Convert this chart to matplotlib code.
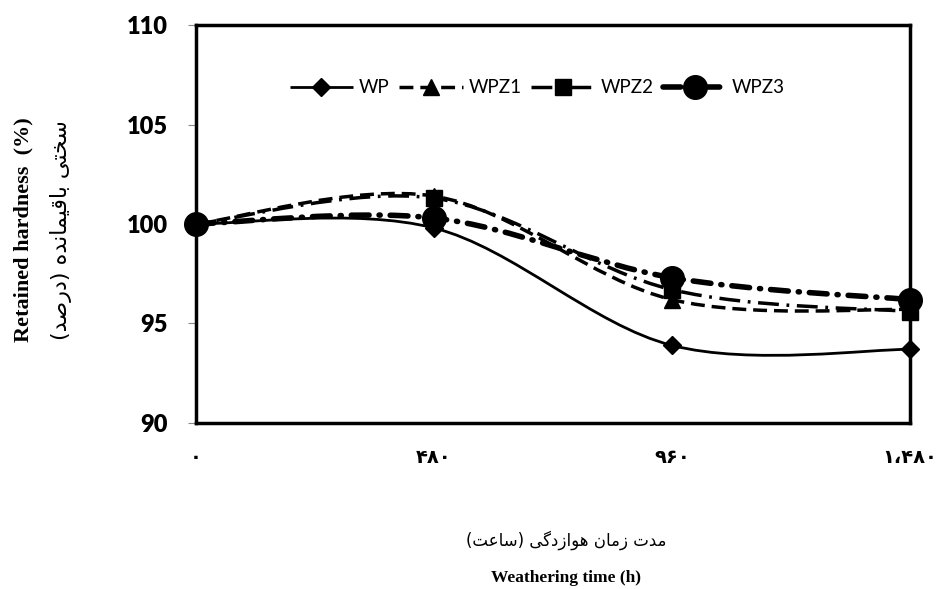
import numpy as np
import matplotlib
matplotlib.use("Agg")
import matplotlib.pyplot as plt
from matplotlib.path import Path
from matplotlib.patches import PathPatch
from matplotlib.lines import Line2D

# weathering time categories (hours) and their persian tick labels
times = [0, 480, 960, 1480]
tick_labels = ["\u06f0", "\u06f4\u06f8\u06f0", "\u06f9\u06f6\u06f0", "\u06f1\u060c\u06f4\u06f8\u06f0"]

# retained hardness (%)
wp = [100.0, 99.8, 93.9, 93.7]
wpz1 = [100.0, 101.4, 96.2, 95.7]
wpz2 = [100.0, 101.3, 96.7, 95.6]
wpz3 = [100.0, 100.3, 97.3, 96.2]

# persian labels, pre-shaped (presentation forms, visual order)
ylabel_fa = ("(\ufeaa\ufebb\ufead\ufea9) "
             "\ufee9\ufeaa\ufee7\ufe8e\ufee4\ufbff\ufed7\ufe8e\ufe91 "
             "\ufbfd\ufe98\ufea8\ufeb3")
xlabel_fa = ("(\ufe96\ufecb\ufe8e\ufeb3) "
             "\ufbfd\ufb94\ufea9\ufeaf\ufe8d\ufeee\ufeeb "
             "\ufee5\ufe8e\ufee3\ufeaf "
             "\ufe95\ufeaa\ufee3")


def smooth_path(xs, ys):
    # excel style smoothed line: catmull-rom turned into cubic bezier
    pts = np.column_stack([xs, ys]).astype(float)
    n = len(pts)
    verts = [pts[0]]
    codes = [Path.MOVETO]
    for i in range(n - 1):
        p0 = pts[max(i - 1, 0)]
        p1 = pts[i]
        p2 = pts[i + 1]
        p3 = pts[min(i + 2, n - 1)]
        verts += [p1 + (p2 - p0) / 6, p2 - (p3 - p1) / 6, p2]
        codes += [Path.CURVE4] * 3
    return Path(verts, codes)


fig = plt.figure(figsize=(9.38, 5.89), dpi=100)
ax = fig.add_axes([196 / 938, 1 - 423 / 589, 714 / 938, 398 / 589])

x = np.arange(len(times))
series = [
    ("WP", wp, "D", 9, (0, ()), 2.0, "butt"),
    ("WPZ1", wpz1, "^", 12, (0, (4, 2)), 2.5, "butt"),
    ("WPZ2", wpz2, "s", 12, (0, (6, 2.2, 0.8, 2.2)), 2.5, "butt"),
    ("WPZ3", wpz3, "o", 17, (0, (3.2, 1.8, 0.2, 1.8)), 4.0, "round"),
]

handles = []
for name, vals, mk, ms, ls, lw, cap in series:
    patch = PathPatch(smooth_path(x, vals), fill=False, edgecolor="black",
                      linewidth=lw, linestyle=ls, capstyle=cap, zorder=3)
    ax.add_patch(patch)
    ax.plot(x, vals, linestyle="none", marker=mk, markersize=ms, color="black",
            clip_on=False, zorder=5)
    handles.append(Line2D([], [], color="black", linewidth=lw, linestyle=ls,
                          dash_capstyle=cap, marker=mk, markersize=ms, label=name))

ax.set_xlim(0, 3)
ax.set_ylim(90, 110)
ax.set_yticks([90, 95, 100, 105, 110])
ax.set_xticks(x)
ax.set_xticklabels(tick_labels, fontfamily="DejaVu Sans", fontweight="bold", fontsize=14)
ax.tick_params(axis="x", length=0, pad=18)
ax.tick_params(axis="y", direction="out", length=6, width=0.8, color="#888888", pad=14)
for lab in ax.get_yticklabels():
    lab.set_fontfamily("Lato")
    lab.set_fontweight("heavy")
    lab.set_fontsize(17)
for sp in ax.spines.values():
    sp.set_linewidth(2.5)
    sp.set_color("black")

leg = ax.legend(handles=handles, loc="center", bbox_to_anchor=(0.478, 0.842), ncol=4,
                frameon=False, handlelength=3.4, handletextpad=0.3, columnspacing=0.5,
                prop={"family": "Lato", "size": 13.5})

fig.text(23 / 938, 1 - 230 / 589, "Retained hardness  (%)", rotation=90, ha="center",
         va="center", fontfamily="Liberation Serif", fontweight="bold", fontsize=16)
fig.text(61 / 938, 1 - 230 / 589, ylabel_fa, rotation=90, ha="center", va="center",
         fontfamily="DejaVu Sans", fontsize=16)
fig.text(566 / 938, 1 - 540 / 589, xlabel_fa, ha="center", va="center",
         fontfamily="DejaVu Sans", fontsize=12)
fig.text(566 / 938, 1 - 578 / 589, "Weathering time (h)", ha="center", va="center",
         fontfamily="Liberation Serif", fontweight="bold", fontsize=12.5)

fig.savefig("out.png", dpi=100)
